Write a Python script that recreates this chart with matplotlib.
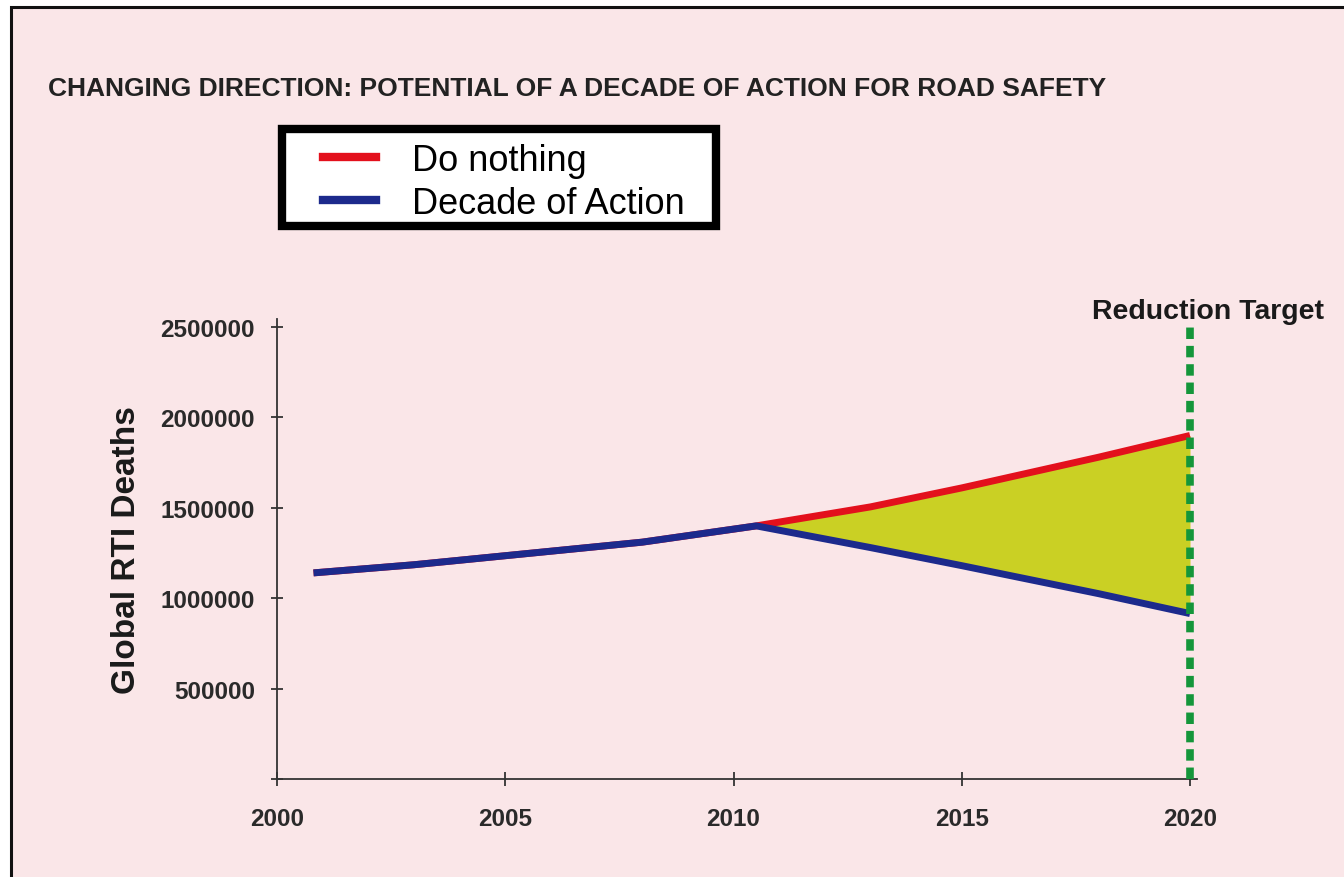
import matplotlib
matplotlib.use("Agg")
import matplotlib.pyplot as plt
from matplotlib.patches import Rectangle
from matplotlib.lines import Line2D

# ---- data ----
common_years = [2000.8, 2003, 2005, 2008, 2010.5]
common_vals = [1140000, 1185000, 1235000, 1310000, 1400000]
branch_years = [2010.5, 2013, 2015, 2018, 2020]
do_nothing_vals = [1400000, 1505000, 1610000, 1780000, 1900000]
decade_vals = [1400000, 1280000, 1180000, 1025000, 915000]
series_names = ["Do nothing", "Decade of Action"]
target_year = 2020
x_ticks = [2000, 2005, 2010, 2015, 2020]
y_ticks = [0, 500000, 1000000, 1500000, 2000000, 2500000]
y_ticklabels = ["", "500000", "1000000", "1500000", "2000000", "2500000"]
title = "CHANGING DIRECTION: POTENTIAL OF A DECADE OF ACTION FOR ROAD SAFETY"
ylabel = "Global RTI Deaths"
target_label = "Reduction Target"

RED = "#e3101c"
BLUE = "#1c2a8c"
FILL = "#cad024"
GREEN = "#14963a"
PINK = "#fae6e8"

W, H = 1344, 878
fig = plt.figure(figsize=(W / 100, H / 100), dpi=100, facecolor="white")

def fx(px):
    return px / W

def fy(py):
    return 1 - py / H

# background panel with black border (right/bottom edges off-canvas)
fig.patches.append(Rectangle((fx(11), -0.1), 1.2, fy(8) + 0.1, transform=fig.transFigure,
                             facecolor=PINK, edgecolor="#111111", linewidth=2.2, zorder=-5))

# axes
ax_l, ax_r, ax_t, ax_b = 277, 1197, 320, 780
ax = fig.add_axes([fx(ax_l), fy(ax_b), fx(ax_r - ax_l), (ax_b - ax_t) / H])
ax.set_zorder(1)
ax.set_facecolor("none")
px_per_year = (1190 - 277) / 20.0
ax.set_xlim(2000, 2000 + (ax_r - ax_l) / px_per_year)
px_per_unit = (780 - 328) / 2500000
ax.set_ylim(0, (ax_b - ax_t) / px_per_unit)

# fill area between branches
ax.fill_between(branch_years, decade_vals, do_nothing_vals, color=FILL, linewidth=0, zorder=1)

# lines
ax.plot(common_years + branch_years[1:], common_vals + do_nothing_vals[1:], color=RED, lw=5,
        solid_capstyle="butt", zorder=2)
ax.plot(common_years + branch_years[1:], common_vals + decade_vals[1:], color=BLUE, lw=5,
        solid_capstyle="butt", zorder=3)

# reduction target line
ax.vlines(target_year, 0, 2515000, colors=GREEN, linewidth=5.5, linestyles=[(0, (1.5, 0.9))],
          zorder=4, capstyle="butt")
ax.text(target_year + 0.4, 2590000, target_label, ha="center", va="center", fontsize=20.5,
        fontweight="bold", family="Liberation Sans", color="#1a1a1a", clip_on=False)

# spines / ticks
for s in ["top", "right"]:
    ax.spines[s].set_visible(False)
for s in ["left", "bottom"]:
    ax.spines[s].set_color("#333333")
    ax.spines[s].set_linewidth(1.3)
ax.set_xticks(x_ticks)
ax.set_xticklabels([str(x) for x in x_ticks])
ax.set_yticks(y_ticks)
ax.set_yticklabels(y_ticklabels)
ax.tick_params(axis="both", direction="inout", color="#333333", width=1.3, labelcolor="#2a2a2a")
ax.tick_params(axis="x", length=10, pad=15, labelsize=17.5)
ax.tick_params(axis="y", length=8, pad=12, labelsize=17.5)
for lab in ax.get_xticklabels() + ax.get_yticklabels():
    lab.set_fontweight("bold")
    lab.set_family("Liberation Sans")

ax.set_ylabel(ylabel, fontsize=24, fontweight="bold", family="Liberation Sans", labelpad=13,
              color="#1a1a1a")

# title
fig.text(fx(48), fy(89), title, ha="left", va="center", fontsize=19, fontweight="bold",
         family="Liberation Sans", color="#222222")

# legend box
fig.patches.append(Rectangle((fx(282), fy(227)), fx(716 - 282), (227 - 130) / H,
                             transform=fig.transFigure, facecolor="white", edgecolor="black",
                             linewidth=6, zorder=5))
handles = [Line2D([], [], color=RED, lw=6), Line2D([], [], color=BLUE, lw=6)]
leg = fig.legend(handles, series_names, loc="upper left", bbox_to_anchor=(fx(305), fy(126)),
                 frameon=False, borderpad=0, handlelength=1.47, handletextpad=1.0,
                 labelspacing=0.215, prop={"family": "Liberation Sans", "size": 26})
leg.set_zorder(6)

fig.savefig("out.png", dpi=100, facecolor="white")
